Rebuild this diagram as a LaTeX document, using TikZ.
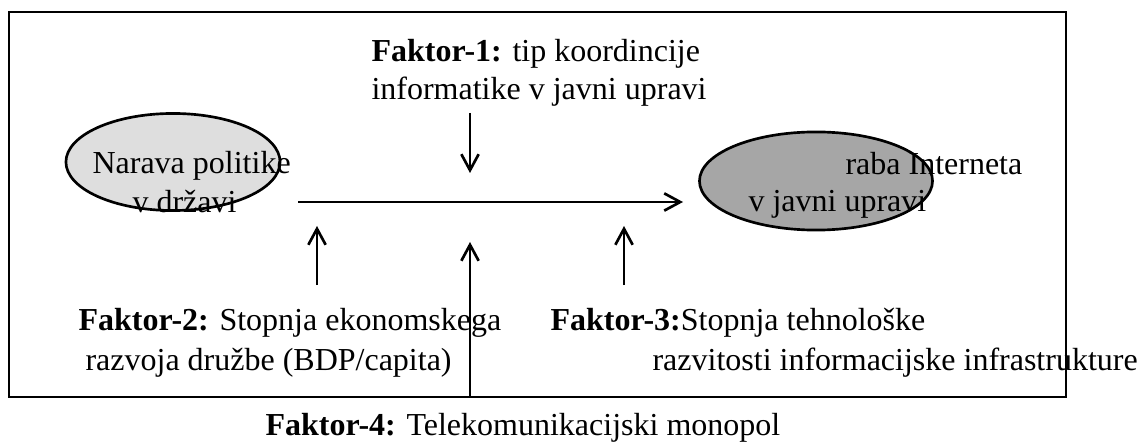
\documentclass[tikz,border=0pt]{standalone}
\usepackage{fontspec}
\setmainfont{Liberation Serif}
\usetikzlibrary{arrows.meta,shapes.geometric}

\tikzset{
  lbl/.style={inner sep=0pt,anchor=base west,font=\fontsize{12}{14}\selectfont},
  oval/.style={ellipse,draw,line width=1pt,inner sep=0pt},
  pfeil/.style={-{Straight Barb[length=6pt,width=6.5pt]},line width=1pt},
}

\begin{document}
\begin{tikzpicture}[x=0.375pt,y=-0.375pt]
\useasboundingbox (0,0) rectangle (1140,448);
\draw[line width=1pt] (9,12) rectangle (1066,397);

% ovals
\node[oval,fill=black!13,minimum width=80.3pt,minimum height=36.4pt] (politika) at (173,162) {};
\node[oval,fill=black!35,minimum width=87.4pt,minimum height=36.8pt] (internet) at (816,181) {};

% texts
\node[lbl] (nar1) at (92,174) {Narava politike};
\node[lbl] (nar2) at (132,213) {v državi};
\node[lbl] (int1) at (845,175) {raba Interneta};
\node[lbl] (int2) at (748,212) {v javni upravi};
\node[lbl] (f1a) at (371,62) {\textbf{Faktor-1:} tip koordincije};
\node[lbl] (f1b) at (371,100) {informatike v javni upravi};
\node[lbl] (f2a) at (78,330) {\textbf{Faktor-2:} Stopnja ekonomskega};
\node[lbl] (f2b) at (85,370) {razvoja družbe (BDP/capita)};
\node[lbl] (f3a) at (550,330) {\textbf{Faktor-3:}Stopnja tehnološke};
\node[lbl] (f3b) at (652,370) {razvitosti informacijske infrastrukture};
\node[lbl] (f4) at (265,435) {\textbf{Faktor-4:} Telekomunikacijski monopol};

% arrows
\coordinate (vhod) at (298,202);
\coordinate (izhod) at (683,202);
\coordinate (f1zac) at (470,113);
\coordinate (f1kon) at (470,173);
\coordinate (f4zac) at (470,397);
\coordinate (f4kon) at (470,242);
\draw[pfeil] (vhod) -- (izhod);
\draw[pfeil] (f1zac) -- (f1kon);
\draw[pfeil] (f4zac) -- (f4kon);
\foreach \x/\n in {317/f2,624/f3} {
  \coordinate (\n zac) at (\x,285);
  \coordinate (\n kon) at (\x,226);
  \draw[pfeil] (\n zac) -- (\n kon);
}
\end{tikzpicture}
\end{document}
